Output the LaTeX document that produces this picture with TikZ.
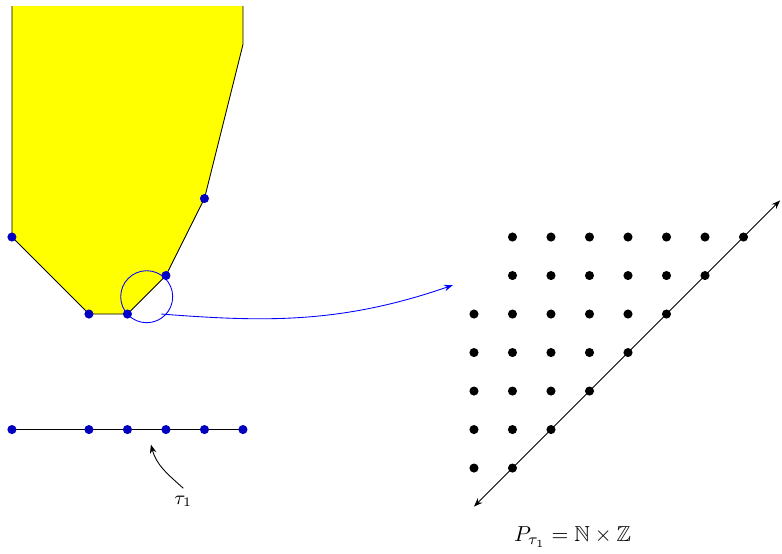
\documentclass[tikz,border=0pt]{standalone}
\usepackage{amsmath, amssymb}
\usepackage{xcolor}
\usetikzlibrary{arrows.meta, positioning, calc}
\definecolor{dotblue}{RGB}{0, 0, 190}
\definecolor{fillyellow}{RGB}{255, 255, 0}

\begin{document}
\begin{tikzpicture}[x=0.625cm, y=0.625cm,
    bdot/.style={circle, fill=dotblue, inner sep=0pt, minimum size=4.2pt},
    kdot/.style={circle, fill=black, inner sep=0pt, minimum size=4.2pt}]
  \useasboundingbox (-0.31,-6.21) rectangle (20.0,8.156);
  % the yellow region and its corners
  \draw[fill=fillyellow] (0,8) -- (0,2) -- (2,0) -- (3,0) -- (4,1) -- (5,3) -- (6,7) -- (6,8);
  \foreach \p/\q [count=\k] in {0/2, 2/0, 3/0, 4/1, 5/3}
    \node[bdot] (v\k) at (\p,\q) {};
  \node[draw=blue, circle, inner sep=0pt, minimum size=0.844cm] (zoom) at (3.5,0.45) {};
  % the fan on the line below
  \coordinate (l0) at (0,-3);
  \coordinate (l6) at (6,-3);
  \draw (l0) -- (l6);
  \foreach \p in {0,2,3,4,5,6}
    \node[bdot] (f\p) at (\p,-3) {};
  \node[font=\small] (tau) at (4.45,-4.86) {$\tau_1$};
  \draw[-{Stealth[length=4pt, width=3pt]}] (tau.north) to[out=138, in=-75] (3.61,-3.39);
  % lattice points of the cone
  \foreach \j in {0,...,6} {
    \pgfmathtruncatemacro\imin{\j>4 ? 1 : 0}
    \pgfmathtruncatemacro\imax{\j+1}
    \foreach \i in {\imin,...,\imax}
      \node[kdot] (g\i\j) at (12+\i,-4+\j) {};
  }
  \coordinate (lo) at (12,-5);
  \coordinate (hi) at (19.95,2.95);
  \draw[{Stealth[length=4pt, width=3pt]}-{Stealth[length=4pt, width=3pt]}] (lo) -- (hi);
  \node (cone) at (14.56,-5.79) {$P_{\tau_1} = \mathbb{N}\times\mathbb{Z}$};
  % from the corner to its cone
  \coordinate (tail) at (3.88,0);
  \coordinate (head) at (11.45,0.75);
  \draw[blue, -{Stealth[length=4pt, width=3pt]}] (tail) .. controls (6.5,-0.2) and (8.5,-0.27) .. (head);
\end{tikzpicture}
\end{document}
